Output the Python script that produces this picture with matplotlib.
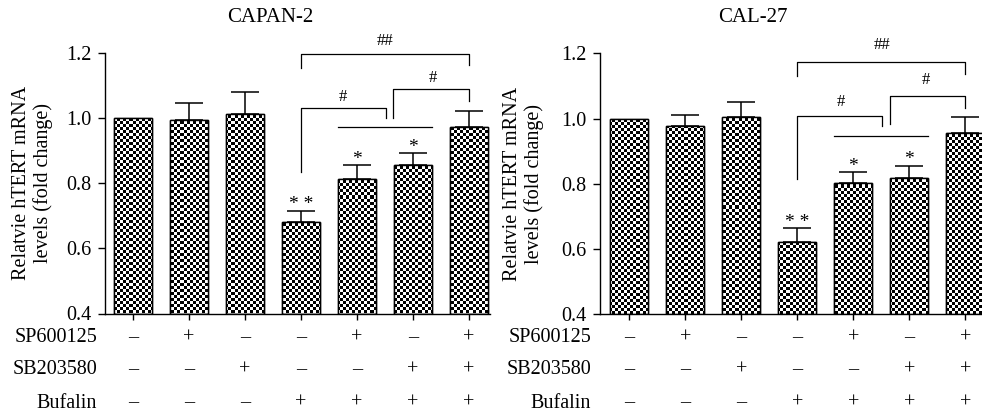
import numpy as np
import matplotlib
matplotlib.use("Agg")
import matplotlib.pyplot as plt

plt.rcParams['font.family'] = ['Liberation Serif', 'DejaVu Serif']

# ---------------- data ----------------
conditions = ["SP600125", "SB203580", "Bufalin"]
sp600125 = ["–", "+", "–", "–", "+", "–", "+"]
sb203580 = ["–", "–", "+", "–", "–", "+", "+"]
bufalin = ["–", "–", "–", "+", "+", "+", "+"]

capan_means = [1.000, 0.995, 1.014, 0.682, 0.812, 0.857, 0.974]
capan_err = [0.0, 0.050, 0.067, 0.034, 0.044, 0.035, 0.047]
cal_means = [1.000, 0.978, 1.004, 0.623, 0.803, 0.819, 0.957]
cal_err = [0.0, 0.033, 0.048, 0.041, 0.032, 0.036, 0.047]
stars = ["", "", "", "**", "*", "*", ""]

y_ticks = [0.4, 0.6, 0.8, 1.0, 1.2]
titles = ["CAPAN-2", "CAL-27"]
ylabel = "Relatvie hTERT mRNA\nlevels (fold change)"

# brackets: (x_left, x_right, y_left_bottom, y_top, y_right_bottom, label, label_x, label_y)
capan_brackets = [
    (3, 4.52, 0.835, 1.030, 1.000, "#", 3.75, 1.066),
    (4.64, 6, 1.000, 1.088, 1.053, "#", 5.35, 1.122),
    (3, 6, 1.155, 1.197, 1.163, "##", 4.51, 1.236),
]
cal_brackets = [
    (3, 4.51, 0.814, 1.008, 0.977, "#", 3.78, 1.052),
    (4.65, 6, 0.982, 1.069, 1.031, "#", 5.30, 1.118),
    (3, 6, 1.130, 1.174, 1.136, "##", 4.51, 1.225),
]
capan_hline = 0.974
cal_hline = 0.948

FS = 14.5
W, H = 982, 417
fig = plt.figure(figsize=(W / 100, H / 100), dpi=100)

panels = [
    dict(rect=(105, 490, 313.5, 53), xlim=(-0.5, 6.375), means=capan_means, err=capan_err,
         brackets=capan_brackets, hline=capan_hline, title=titles[0], title_x=270, ylab_x=32.5,
         row_label_x=97),
    dict(rect=(600, 982, 314.3, 53.3), xlim=(-0.523, 6.30), means=cal_means, err=cal_err,
         brackets=cal_brackets, hline=cal_hline, title=titles[1], title_x=753, ylab_x=523.5,
         row_label_x=591),
]

bw = 0.68
for p in panels:
    l, r, b, t = p["rect"]
    ax = fig.add_axes([l / W, 1 - b / H, (r - l) / W, (b - t) / H])
    x = np.arange(len(p["means"]))
    means = np.array(p["means"])
    err = np.array(p["err"])
    bars = ax.bar(x, means - 0.4, bottom=0.4, width=bw, color="white", edgecolor="black",
                  linewidth=1.0, zorder=2)
    ax.set_xlim(*p["xlim"])
    ax.set_ylim(0.4, 1.2)
    # checkerboard texture
    nx = int(round((r - l) / 3.0))
    ny = int(round((b - t) / 3.0))
    board = (np.add.outer(np.arange(ny), np.arange(nx)) % 2).astype(float)
    for bar in bars:
        im = ax.imshow(board, cmap="gray", vmin=0, vmax=1, interpolation="nearest",
                       extent=(p["xlim"][0], p["xlim"][1], 0.4, 1.2), aspect="auto",
                       origin="lower", zorder=2.5)
        im.set_clip_path(bar)
    ax.bar(x, means - 0.4, bottom=0.4, width=bw, color="none", edgecolor="black",
           linewidth=1.0, zorder=3)
    ax.set_xlim(*p["xlim"])
    ax.set_ylim(0.4, 1.2)
    # error bars (upper only)
    mask = err > 0
    ax.errorbar(x[mask], means[mask], yerr=[np.zeros(mask.sum()), err[mask]], fmt="none",
                ecolor="black", elinewidth=1.1, capsize=10, capthick=1.1, zorder=4)
    # stars
    for xi, m, e, s in zip(x, means, err, stars):
        if s:
            ax.text(xi, m + e - 0.008, " ".join(s) if len(s) > 1 else s, ha="center",
                    va="bottom", fontsize=14, zorder=5)
    # horizontal line over bars 5-6
    ax.plot([4 - bw / 2, 5 + bw / 2], [p["hline"], p["hline"]], color="black", lw=0.9,
            clip_on=False)
    for (xl, xr, yl, yt, yr, lab, lx, ly) in p["brackets"]:
        ax.plot([xl, xl, xr, xr], [yl, yt, yt, yr], color="black", lw=0.9, clip_on=False)
        ax.text(lx, ly, lab, ha="center", va="center", fontsize=12, clip_on=False)
    # spines and ticks
    for s in ["top", "right"]:
        ax.spines[s].set_visible(False)
    ax.spines["left"].set_linewidth(1.0)
    ax.spines["bottom"].set_linewidth(1.0)
    ax.set_yticks(y_ticks)
    ax.set_yticklabels([f"{v:.1f}" for v in y_ticks])
    ax.tick_params(axis="y", direction="out", length=5, width=1.0, labelsize=FS, pad=5)
    ax.set_xticks(x)
    ax.set_xticklabels([""] * len(x))
    ax.tick_params(axis="x", direction="out", length=4, width=1.0)
    # condition table
    rows_y = [338, 370, 403]
    for row_name, signs, py in zip(conditions, [sp600125, sb203580, bufalin], rows_y):
        ya = (b - py) / (b - t)
        ax.text((p["row_label_x"] - l) / (r - l), ya, row_name, transform=ax.transAxes,
                ha="right", va="center", fontsize=FS, clip_on=False)
        for xi, sg in zip(x, signs):
            ax.text(xi, 0.4 + (ya * 0.8), sg, ha="center", va="center", fontsize=FS,
                    clip_on=False)
    # title and y label
    fig.text(p["title_x"] / W, 1 - 18 / H, p["title"], ha="center", va="center", fontsize=15)
    fig.text(p["ylab_x"] / W, 1 - (b + t) / 2 / H, ylabel, rotation=90, ha="center",
             va="center", fontsize=FS, linespacing=1.2)

fig.savefig("out.png", dpi=100)
